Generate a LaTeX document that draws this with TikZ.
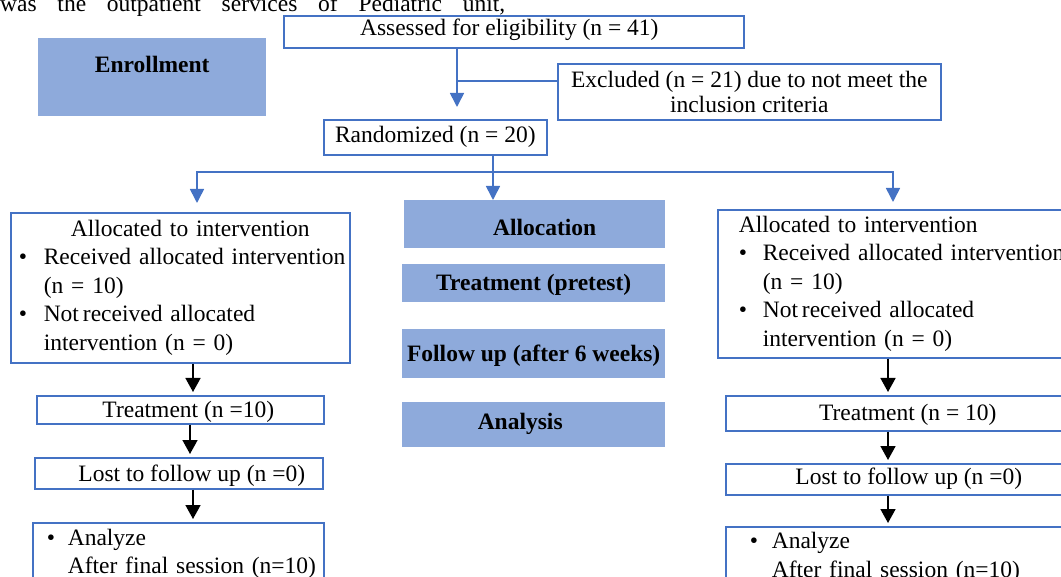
\documentclass[tikz,border=0pt]{standalone}
\usepackage{fontspec}
\setmainfont{Liberation Serif}
\usetikzlibrary{arrows.meta,calc}
\definecolor{bl}{HTML}{4472C4}
\definecolor{fillb}{HTML}{8EAADB}
\tikzset{
  outbox/.style={draw=bl, line width=1.6pt, fill=white, inner sep=0pt, anchor=north west,
    font=\fontsize{23.5}{28.5}\selectfont},
  phase/.style={fill=fillb, inner sep=0pt, anchor=north west,
    font=\fontsize{23.5}{28}\selectfont\bfseries},
  bline/.style={draw=bl, line width=1.6pt},
  barrow/.style={bline, -{Triangle[width=14pt,length=14pt]}},
  karrow/.style={draw=black, line width=1.6pt, -{Triangle[width=15pt,length=14pt]}, shorten >=3pt},
}
\begin{document}
\begin{tikzpicture}[x=1pt,y=-1pt]
\useasboundingbox (0,0) rectangle (1061,577);
\clip (0,0) rectangle (1061,577);

% clipped page text at the top
\node[anchor=base west, inner sep=0pt, font=\fontsize{23.5}{28}\selectfont] (pagetext) at (0,11.5)
  {\makebox[505pt][s]{was the outpatient services of Pediatric unit,}};

% phase boxes
\node[phase, minimum width=228pt, text height=34pt, text depth=44pt] (enr) at (38,38) {Enrollment};
\node[phase, minimum width=261pt, text height=35pt, text depth=13pt] (pal) at (404,200) {\hspace*{20pt}Allocation};
\node[phase, minimum width=263pt, text height=26pt, text depth=12pt] (ptr) at (402,264) {Treatment (pretest)};
\node[phase, minimum width=263pt, text height=32pt, text depth=17pt] (pfu) at (402,329) {Follow up (after 6 weeks)};
\node[phase, minimum width=263pt, text height=27pt, text depth=18pt] (pan) at (402,402) {Analysis\hspace*{27pt}};

% flow boxes
\node[outbox, minimum width=460pt, text height=20pt, text depth=12pt] (ass) at (283,15)
  {Assessed for eligibility (n = 41)\hspace*{9pt}};
\node[outbox, minimum width=383pt, minimum height=56pt, align=center,
  font=\fontsize{23.5}{25}\selectfont] (exc) at (557,63)
  {Excluded (n = 21) due to not meet the\\inclusion criteria};
\node[outbox, minimum width=223pt, text height=23pt, text depth=12pt] (rnd) at (323,119)
  {Randomized (n = 20)};

\node[outbox, minimum height=150pt, text width=331pt, inner xsep=4pt, align=left] (la) at (10,212)
  {\hyphenpenalty=10000
   \hspace*{56pt}Allocated to intervention\\
   \hspace*{4pt}\makebox[25pt][l]{\textbullet}Received allocated intervention\\
   \hspace*{29pt}(n = 10)\\
   \hspace*{4pt}\makebox[25pt][l]{\textbullet}Not\,received allocated\\
   \hspace*{29pt}intervention (n = 0)};
\node[outbox, minimum height=148pt, text width=330pt, inner xsep=21pt, align=left] (ra) at (717,209)
  {\hyphenpenalty=10000
   Allocated to intervention\\
   \makebox[24pt][l]{\textbullet}Received allocated intervention\\
   \hspace*{24pt}(n = 10)\\
   \makebox[24pt][l]{\textbullet}Not\,received allocated\\
   \hspace*{24pt}intervention (n = 0)};

\node[outbox, minimum width=287pt, text height=22pt, text depth=6pt] (lt) at (36,395)
  {\hspace*{16pt}Treatment (n =10)};
\node[outbox, minimum width=288pt, text height=24pt, text depth=7pt] (ll) at (34,457)
  {\hspace*{26pt}Lost to follow up (n =0)};
\node[outbox, minimum height=62pt, text width=283pt, inner xsep=4pt, align=left,
  font=\fontsize{23.5}{28}\selectfont] (lz) at (32,522)
  {\hyphenpenalty=10000
   \hspace*{10pt}\makebox[21pt][l]{\textbullet}Analyze\\\hspace*{31pt}After final session (n=10)};

\node[outbox, minimum width=364pt, text height=25pt, text depth=10pt] (rt) at (725,395)
  {Treatment (n = 10)};
\node[outbox, minimum width=366pt, text height=21pt, text depth=10pt] (rl) at (725,463)
  {Lost to follow up (n =0)};
\node[outbox, minimum height=62pt, text width=330pt, inner xsep=24pt, align=left,
  font=\fontsize{23.5}{29}\selectfont] (rz) at (725,526)
  {\makebox[22pt][l]{\textbullet}Analyze\\\hspace*{22pt}After final session (n=10)};

% blue connectors
\coordinate (a1) at (457,107);
\coordinate (br) at (457,81);
\coordinate (j) at (493,172);
\coordinate (lt1) at (197,203);
\coordinate (rt1) at (893,202);
\draw[barrow] (ass.south -| a1) -- (a1);
\draw[bline] (br) -- (br -| exc.west);
\draw[bline] (rnd.south -| j) -- (j);
\draw[barrow] (j) -| (lt1);
\draw[barrow] (j) -| (rt1);
\draw[barrow] (j) -- (j |- pal.north);

% black connectors
\coordinate (xa) at (193,0);
\coordinate (xb) at (190,0);
\coordinate (xr) at (888,0);
\draw[karrow] (la.south -| xa) -- (lt.north -| xa);
\draw[karrow] (lt.south -| xb) -- (ll.north -| xb);
\draw[karrow] (ll.south -| xa) -- (lz.north -| xa);
\draw[karrow] (ra.south -| xr) -- (rt.north -| xr);
\draw[karrow] (rt.south -| xr) -- (rl.north -| xr);
\draw[karrow] (rl.south -| xr) -- (rz.north -| xr);
\end{tikzpicture}
\end{document}
